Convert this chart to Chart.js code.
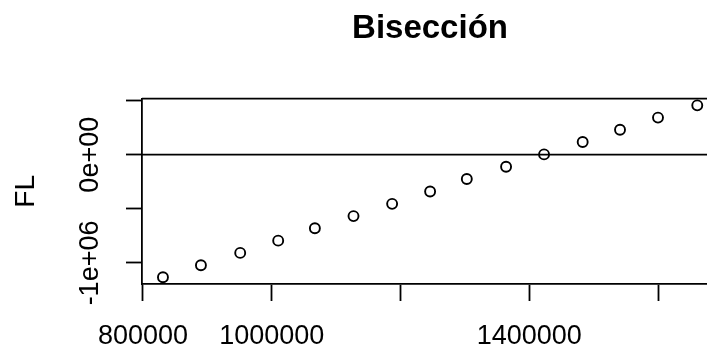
<!DOCTYPE html>
<html>
<head>
<meta charset="utf-8">
<script src="https://cdn.jsdelivr.net/npm/chart.js@4/dist/chart.umd.min.js"></script>
<style>
  html, body { margin: 0; overflow: hidden; background: #fff; }
</style>
</head>
<body>
<!-- the plot region runs past the right edge of the window, as in the cropped original -->
<canvas id="biseccionChart" width="718" height="347"></canvas>
<script>
// values
const xValues = [831000, 890000, 951000, 1010000, 1067000, 1127000, 1187000, 1246000,
                 1303000, 1364000, 1423000, 1483000, 1541000, 1600000, 1661000];
const flValues = [-1132000, -1021000, -907000, -794000, -679000, -567000, -454000, -340000,
                  -225000, -111000, 3000, 118000, 231000, 343000, 456000];

const xTickValues = [800000, 1000000, 1200000, 1400000, 1600000];
const xTickLabels = ['800000', '1000000', '', '1400000', ''];
const yTickValues = [-1000000, -500000, 0, 500000];
const yTickLabels = ['-1e+06', '', '0e+00', ''];
const xRange = [798450, 1693200];
const yRange = [-1194400, 518500];

Chart.defaults.color = '#000';
Chart.defaults.font.family = '"Liberation Sans", Arial, sans-serif';

// top side of the box + abline(h = 0)
const rFrame = {
  id: 'rFrame',
  afterDatasetsDraw(chart) {
    const { ctx, chartArea, scales } = chart;
    const y0 = scales.y.getPixelForValue(0);
    ctx.save();
    ctx.strokeStyle = '#000';
    ctx.lineWidth = 1.8;
    ctx.beginPath();
    ctx.moveTo(chartArea.left, chartArea.top);
    ctx.lineTo(chartArea.right, chartArea.top);
    ctx.moveTo(chartArea.left, y0);
    ctx.lineTo(chartArea.right, y0);
    ctx.stroke();
    ctx.restore();
  }
};

const ctx = document.getElementById('biseccionChart').getContext('2d');
const chart = new Chart(ctx, {
  type: 'scatter',
  data: {
    datasets: [{
      label: 'FL',
      data: xValues.map((x, i) => ({ x: x, y: flValues[i] })),
      pointStyle: 'circle',
      pointRadius: 5,
      pointHoverRadius: 5,
      borderColor: '#000',
      backgroundColor: 'rgba(0,0,0,0)',
      borderWidth: 1.9
    }]
  },
  options: {
    responsive: false,
    animation: false,
    events: [],
    layout: { autoPadding: false, padding: 0 },
    plugins: {
      legend: { display: false },
      tooltip: { enabled: false },
      title: {
        display: true,
        text: 'Bisección',
        fullSize: false,
        font: { size: 33, weight: 'bold' },
        padding: { top: 9, bottom: 50 }
      }
    },
    scales: {
      x: {
        type: 'linear',
        min: xRange[0],
        max: xRange[1],
        afterBuildTicks: s => { s.ticks = xTickValues.map(v => ({ value: v })); },
        afterFit: s => { s.height = 63; },
        border: { display: true, color: '#000', width: 1.8 },
        grid: { drawOnChartArea: false, drawTicks: true, tickLength: 17, tickColor: '#000', tickWidth: 1.8 },
        ticks: {
          autoSkip: false,
          maxRotation: 0,
          padding: 19,
          font: { size: 27 },
          callback: v => xTickLabels[xTickValues.indexOf(v)]
        }
      },
      y: {
        type: 'linear',
        min: yRange[0],
        max: yRange[1],
        afterBuildTicks: s => { s.ticks = yTickValues.map(v => ({ value: v })); },
        afterFit: s => { s.width = 142; },
        border: { display: true, color: '#000', width: 1.8 },
        grid: { drawOnChartArea: false, drawTicks: true, tickLength: 16, tickColor: '#000', tickWidth: 1.8 },
        title: {
          display: true,
          text: 'FL',
          font: { size: 28 },
          padding: { top: 9, bottom: 0 }
        },
        ticks: {
          autoSkip: false,
          minRotation: 90,
          maxRotation: 90,
          crossAlign: 'center',
          padding: -7,
          font: { size: 27 },
          callback: v => yTickLabels[yTickValues.indexOf(v)]
        }
      }
    }
  },
  plugins: [rFrame]
});
</script>
</body>
</html>
